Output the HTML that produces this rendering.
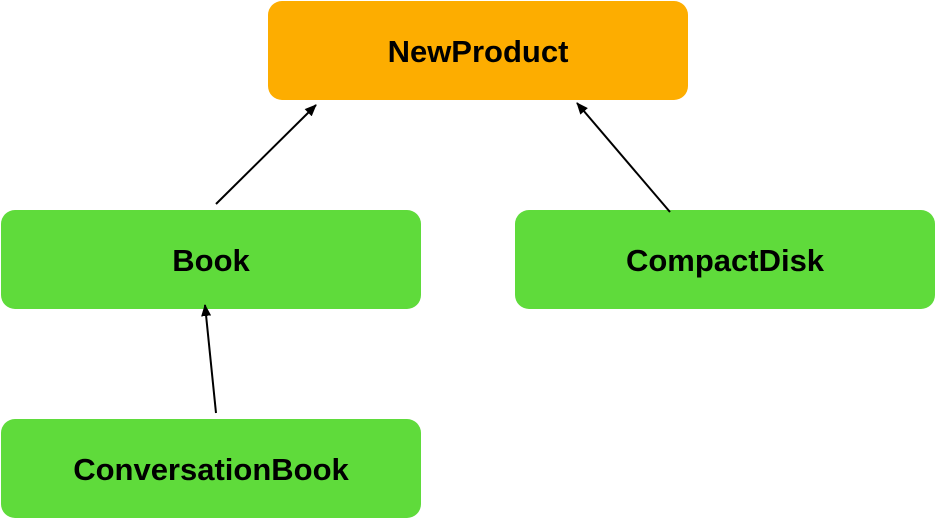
<!DOCTYPE html>
<html><head><style>
html,body{margin:0;padding:0;background:#fff;width:936px;height:520px;overflow:hidden;position:relative}
.b{position:absolute;width:420px;height:99px;box-sizing:border-box;padding-top:3px;border-radius:14px;background:#5fdb3b;display:flex;align-items:center;justify-content:center;font:bold 31px "Liberation Sans",Arial,sans-serif;color:#000}
</style></head><body>
<div class="b" style="left:268px;top:1px;background:#fdad00">NewProduct</div>
<div class="b" style="left:1px;top:210px">Book</div>
<div class="b" style="left:515px;top:210px">CompactDisk</div>
<div class="b" style="left:1px;top:419px">ConversationBook</div>
<svg width="936" height="520" style="position:absolute;left:0;top:0">
<defs><marker id="a" markerWidth="12" markerHeight="10" refX="11" refY="5" orient="auto" markerUnits="userSpaceOnUse"><path d="M0,0L12,5L0,10z" fill="#000"/></marker></defs>
<g stroke="#000" stroke-width="2" fill="none">
<line x1="216" y1="204" x2="316" y2="105" marker-end="url(#a)"/>
<line x1="670" y1="212" x2="577" y2="103" marker-end="url(#a)"/>
<line x1="216" y1="413" x2="205" y2="305" marker-end="url(#a)"/>
</g></svg>
</body></html>
